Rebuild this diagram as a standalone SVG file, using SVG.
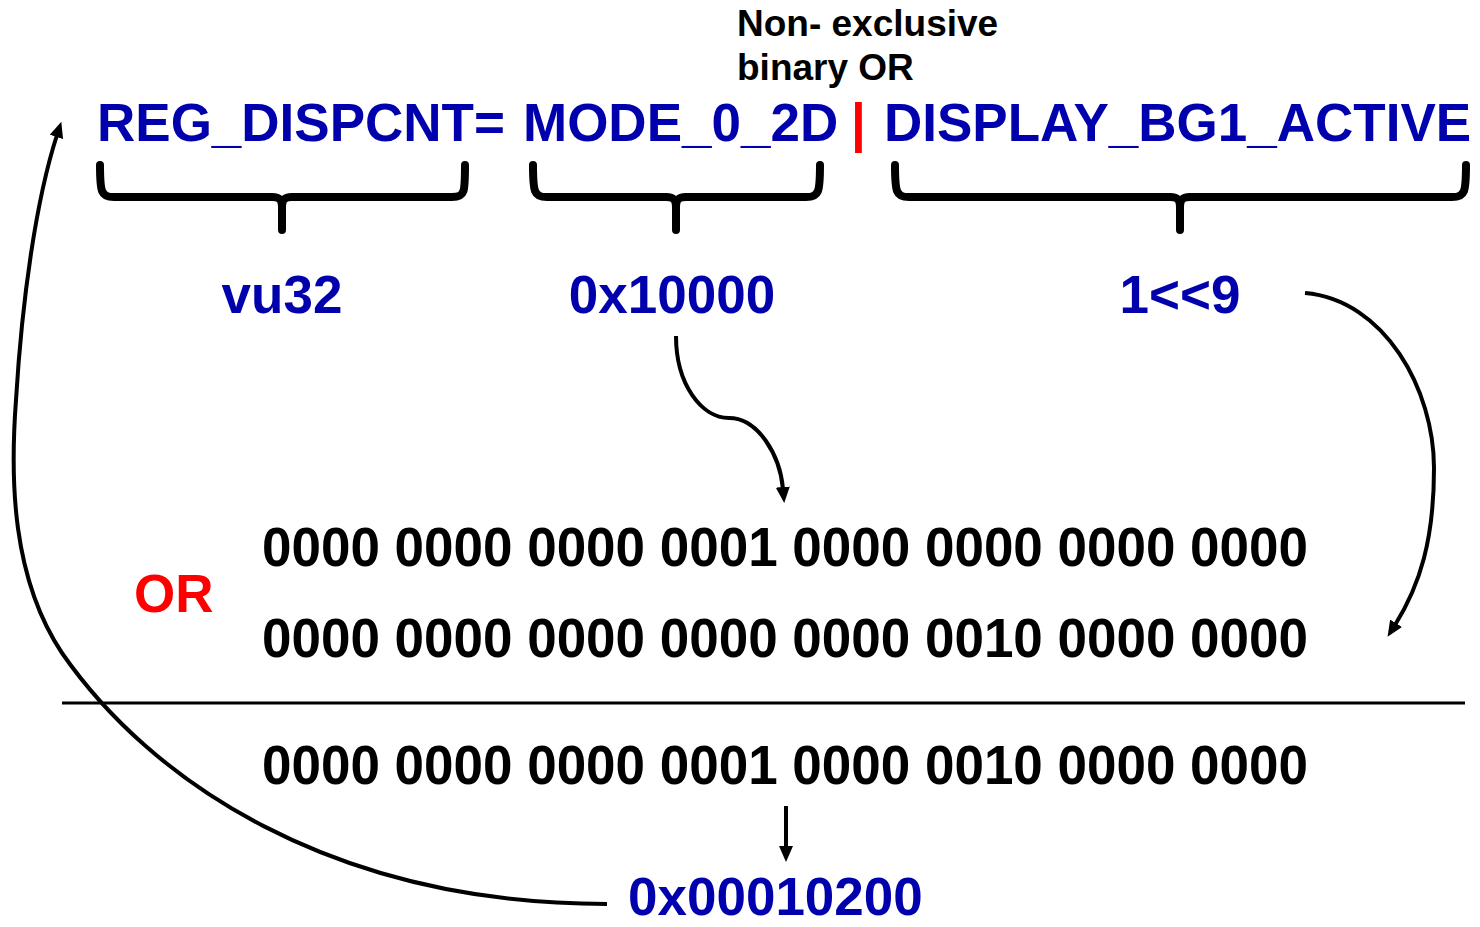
<svg xmlns="http://www.w3.org/2000/svg" width="1480" height="927" viewBox="0 0 1480 927">
  <style>
    .code { font-family: "Liberation Sans", Arial, sans-serif; font-weight: bold; font-size: 53px; fill: #0000AD; }
    .note { font-family: "Liberation Sans", Arial, sans-serif; font-weight: bold; font-size: 37px; fill: #000; }
    .bits { font-family: "Liberation Sans", Arial, sans-serif; font-weight: bold; font-size: 56px; fill: #000; }
    .red  { font-family: "Liberation Sans", Arial, sans-serif; font-weight: bold; font-size: 53px; fill: #FF0000; }
    .brace { fill: none; stroke: #000; stroke-width: 8; stroke-linecap: round; stroke-linejoin: round; }
    .conn { fill: none; stroke: #000; stroke-width: 4; }
  </style>
  <defs>
    <marker id="arrow" viewBox="0 0 16 14" refX="2" refY="7" markerWidth="16" markerHeight="14" markerUnits="userSpaceOnUse" orient="auto">
      <path d="M0,0 L16,7 L0,14 z" fill="#000"/>
    </marker>
  </defs>
  <rect width="1480" height="927" fill="#fff"/>

  <!-- expression line -->
  <g id="expression">
    <text class="code" x="97" y="141">REG_DISPCNT=</text>
    <text class="code" x="523" y="141">MODE_0_2D</text>
    <text class="red" x="851" y="141">|</text>
    <text class="code" x="884" y="141">DISPLAY_BG1_ACTIVE</text>
  </g>

  <g id="or-note">
    <text class="note" x="737" y="36">Non- exclusive</text>
    <text class="note" x="737" y="80">binary OR</text>
  </g>

  <!-- braces under each operand -->
  <g id="brace-vu32">
    <path class="brace" d="M100,165 C100,192 101,197 114,197 L272,197 C280,197 282,200 282,208 L282,230 M282,208 C282,200 284,197 292,197 L452,197 C465,197 465,192 465,165"/>
    <text class="code" x="282" y="313" text-anchor="middle">vu32</text>
  </g>
  <g id="brace-mode">
    <path class="brace" d="M533,165 C533,192 534,197 547,197 L666,197 C674,197 676,200 676,208 L676,230 M676,208 C676,200 678,197 686,197 L806,197 C819,197 820,192 820,165"/>
    <text class="code" x="672" y="313" text-anchor="middle">0x10000</text>
  </g>
  <g id="brace-bg1">
    <path class="brace" d="M895,165 C895,192 896,197 909,197 L1170,197 C1178,197 1180,200 1180,208 L1180,230 M1180,208 C1180,200 1182,197 1190,197 L1452,197 C1465,197 1466,192 1466,165"/>
    <text class="code" x="1180" y="313" text-anchor="middle">1&lt;&lt;9</text>
  </g>

  <!-- bit patterns -->
  <g id="operation">
    <text class="red" x="134" y="612">OR</text>
    <text class="bits" x="262" y="566" textLength="1046" lengthAdjust="spacingAndGlyphs">0000 0000 0000 0001 0000 0000 0000 0000</text>
    <text class="bits" x="262" y="657" textLength="1046" lengthAdjust="spacingAndGlyphs">0000 0000 0000 0000 0000 0010 0000 0000</text>
    <line x1="62" y1="703" x2="1465" y2="703" stroke="#000" stroke-width="3"/>
    <text class="bits" x="262" y="784" textLength="1046" lengthAdjust="spacingAndGlyphs">0000 0000 0000 0001 0000 0010 0000 0000</text>
  </g>

  <g id="result">
    <text class="code" x="628" y="915">0x00010200</text>
  </g>

  <!-- connectors -->
  <g id="connectors">
    <path class="conn" marker-end="url(#arrow)" d="M676,336 C676,385 702,418 729,418 C758,418 780,455 783,489"/>
    <path class="conn" marker-end="url(#arrow)" d="M1305,293 C1385,300 1434,390 1434,468 C1434,540 1420,585 1395,625"/>
    <path class="conn" marker-end="url(#arrow)" d="M607,904 C330,904 150,780 62,653 C12,578 10,480 16,400 C22,300 36,200 57,135"/>
    <path class="conn" marker-end="url(#arrow)" d="M786,806 L786,848"/>
  </g>
</svg>
